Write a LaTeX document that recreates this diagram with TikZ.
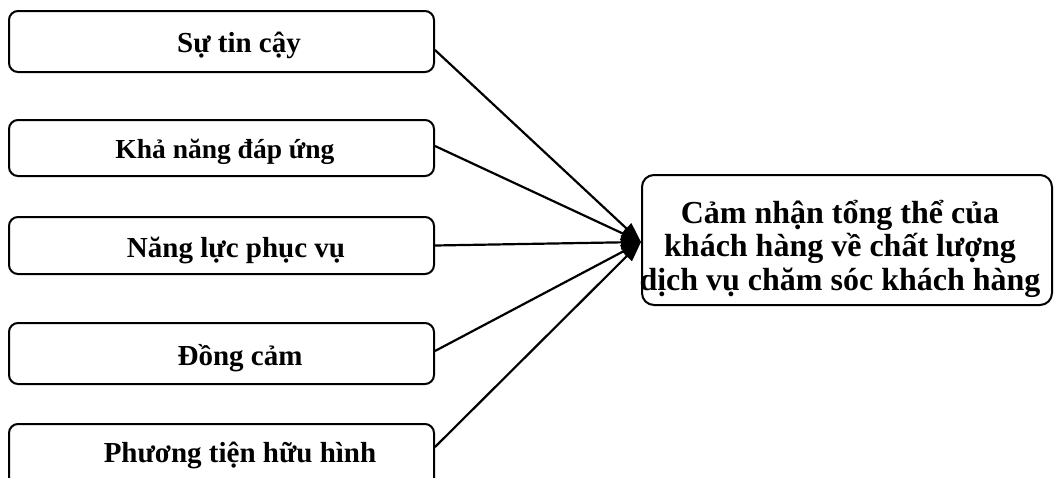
\documentclass[tikz,border=0pt]{standalone}
\usepackage{fontspec}
\setmainfont{Liberation Serif}
\usetikzlibrary{arrows.meta}
\tikzset{
  factor/.style={draw, line width=2pt, rounded corners=9pt, inner sep=0pt,
    minimum width=425pt, minimum height=#1},
  factor/.default=61pt,
  outcome/.style={draw, line width=2pt, rounded corners=12pt, inner sep=0pt,
    minimum width=410pt, minimum height=130pt},
  flbl/.style={anchor=base, inner sep=0pt, font=\bfseries\fontsize{#1}{30}\selectfont},
  flbl/.default=29,
  olbl/.style={anchor=base, inner sep=0pt, align=center,
    font=\bfseries\fontsize{32}{33.5}\selectfont},
  link/.style={line width=2.2pt, -{Triangle[length=20pt,width=14pt]}}
}
\begin{document}
\begin{tikzpicture}[x=1pt,y=-1pt]
  \useasboundingbox (0,0) rectangle (1058,477);
  \clip (0,0) rectangle (1058,477);

  % five factor boxes on the left
  \node[factor] (b1) at (221.5,41.5) {};
  \node[factor=56pt] (b2) at (221.5,148) {};
  \node[factor=57pt] (b3) at (221.5,245.5) {};
  \node[factor] (b4) at (221.5,353.5) {};
  \node[factor=66pt] (b5) at (221.5,457) {};

  \node[flbl] (t1) at (239,52) {Sự tin cậy};
  \node[flbl=27.5] (t2) at (225,158) {Khả năng đáp ứng};
  \node[flbl] (t3) at (236,257) {Năng lực phục vụ};
  \node[flbl] (t4) at (240,365) {Đồng cảm};
  \node[flbl] (t5) at (240,462) {Phương tiện hữu hình};

  % overall perception box on the right
  \node[outcome] (out) at (847,240) {};
  \node[olbl] (tout) at (840,290) {Cảm nhận tổng thể của\\khách hàng về chất lượng\\dịch vụ chăm sóc khách hàng};

  % every factor points at the same spot on the outcome box
  \coordinate (hit) at (641,242);
  \draw[link] ([yshift=-8.5pt]b1.east) -- (hit);
  \draw[link] ([yshift=2pt]b2.east) -- (hit);
  \draw[link] (b3.east) -- (hit);
  \draw[link] ([yshift=2.5pt]b4.east) -- (hit);
  \draw[link] ([yshift=10pt]b5.east) -- (hit);
\end{tikzpicture}
\end{document}
